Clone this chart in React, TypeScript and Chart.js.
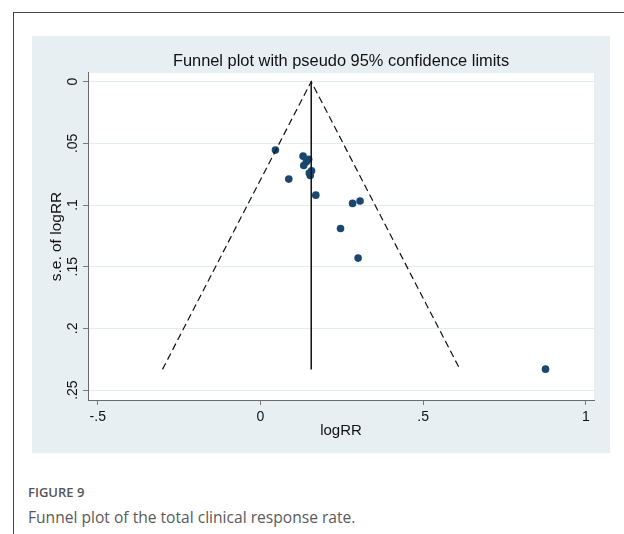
import React, { useEffect, useRef } from "react";
import { Chart, registerables } from "chart.js";

Chart.register(...registerables);

// Study estimates (log risk ratio) and their standard errors
const logRR = [0.046, 0.131, 0.148, 0.141, 0.133, 0.157, 0.153, 0.150, 0.087, 0.170, 0.283, 0.306, 0.246, 0.300, 0.876];
const seLogRR = [0.0555, 0.0604, 0.063, 0.065, 0.068, 0.0723, 0.076, 0.074, 0.079, 0.092, 0.0987, 0.0968, 0.119, 0.143, 0.233];
const pooledLogRR = 0.156;
const maxSE = 0.2332;
const zValue = 1.96;

const xTickValues = [-0.5, 0, 0.5, 1];
const xTickLabels = ["-.5", "0", ".5", "1"];
const yTickValues = [0, 0.05, 0.1, 0.15, 0.2, 0.25];
const yTickLabels = ["0", ".05", ".1", ".15", ".2", ".25"];

const chartTitle = "Funnel plot with pseudo 95% confidence limits";
const xTitle = "logRR";
const yTitle = "s.e. of logRR";
const figureLabel = "FIGURE 9";
const figureCaption = "Funnel plot of the total clinical response rate.";

const FONT = "'Liberation Sans', Arial, Helvetica, sans-serif";

export default function App() {
  const canvasRef = useRef<HTMLCanvasElement | null>(null);

  useEffect(() => {
    const canvas = canvasRef.current;
    if (!canvas) return;

    const studies = logRR.map((x, i) => ({ x, y: seLogRR[i] }));
    const funnel = [
      { x: pooledLogRR - zValue * maxSE, y: maxSE },
      { x: pooledLogRR, y: 0 },
      { x: pooledLogRR + zValue * maxSE, y: maxSE },
    ];
    const pooledLine = [
      { x: pooledLogRR, y: 0 },
      { x: pooledLogRR, y: maxSE },
    ];

    const whiteArea = {
      id: "whiteArea",
      beforeDraw(chart: any) {
        const { ctx, chartArea } = chart;
        ctx.save();
        ctx.fillStyle = "#ffffff";
        ctx.fillRect(chartArea.left, chartArea.top, chartArea.right - chartArea.left, chartArea.bottom - chartArea.top);
        ctx.restore();
      },
    };

    const chart = new Chart(canvas, {
      type: "scatter",
      data: {
        datasets: [
          {
            type: "line",
            data: funnel,
            borderColor: "#111111",
            borderWidth: 1.2,
            borderDash: [7, 4],
            pointRadius: 0,
            fill: false,
            tension: 0,
          } as any,
          {
            type: "line",
            data: pooledLine,
            borderColor: "#111111",
            borderWidth: 1.5,
            pointRadius: 0,
            fill: false,
          } as any,
          {
            type: "scatter",
            data: studies,
            backgroundColor: "#1a476f",
            borderColor: "#1a476f",
            borderWidth: 0,
            pointRadius: 3.8,
          } as any,
        ],
      },
      options: {
        animation: false,
        responsive: false,
        maintainAspectRatio: false,
        layout: { padding: { left: 0, right: 16, top: 0, bottom: 0 } },
        plugins: {
          legend: { display: false },
          tooltip: { enabled: false },
          title: {
            display: true,
            text: chartTitle,
            fullSize: false,
            color: "#111111",
            font: { family: FONT, size: 16.4, weight: "normal" },
            padding: { top: 16, bottom: 1.3 },
          },
        },
        scales: {
          x: {
            type: "linear",
            min: -0.53,
            max: 1.025,
            afterBuildTicks: (s: any) => {
              s.ticks = xTickValues.map((v) => ({ value: v }));
            },
            afterFit: (s: any) => {
              s.height = 53;
            },
            ticks: {
              autoSkip: false,
              maxRotation: 0,
              minRotation: 0,
              padding: 4,
              color: "#111111",
              font: { family: FONT, size: 14 },
              callback: (_v: any, i: number) => xTickLabels[i],
            },
            grid: {
              drawOnChartArea: false,
              drawTicks: true,
              tickLength: 5,
              tickColor: "#7a7a7a",
              tickWidth: 1,
            },
            border: { display: true, color: "#6a6a6a", width: 1 },
            title: {
              display: true,
              text: xTitle,
              color: "#111111",
              font: { family: FONT, size: 15 },
              padding: { top: 0, bottom: 13 },
            },
          },
          y: {
            type: "linear",
            reverse: true,
            min: -0.007,
            max: 0.258,
            afterBuildTicks: (s: any) => {
              s.ticks = yTickValues.map((v) => ({ value: v }));
            },
            afterFit: (s: any) => {
              s.width = 56;
            },
            ticks: {
              autoSkip: false,
              minRotation: 90,
              maxRotation: 90,
              crossAlign: "center",
              padding: 0,
              color: "#111111",
              font: { family: FONT, size: 14 },
              callback: (_v: any, i: number) => yTickLabels[i],
            },
            grid: {
              drawOnChartArea: true,
              color: "#e3ebee",
              lineWidth: 1,
              drawTicks: true,
              tickLength: 5,
              tickColor: "#7a7a7a",
              tickWidth: 1,
            },
            border: { display: true, color: "#6a6a6a", width: 1 },
            title: {
              display: true,
              text: yTitle,
              color: "#111111",
              font: { family: FONT, size: 15.5 },
              padding: { top: 15, bottom: 0 },
            },
          },
        },
      } as any,
      plugins: [whiteArea],
    });

    return () => chart.destroy();
  }, []);

  return (
    <div style={{ position: "absolute", left: 0, top: 0, width: 624, height: 534, background: "#ffffff", overflow: "hidden" }}>
      <div
        style={{
          position: "absolute",
          left: 13,
          top: 12,
          width: 620,
          height: 530,
          borderTop: "1px solid #444",
          borderLeft: "1px solid #444",
        }}
      />
      <div style={{ position: "absolute", left: 32, top: 36, width: 578, height: 417, background: "#e8eff2" }}>
        <canvas ref={canvasRef} width={578} height={417} style={{ display: "block", width: 578, height: 417 }} />
      </div>
      <div
        style={{
          position: "absolute",
          left: 28,
          top: 483,
          fontFamily: "'Open Sans', 'Noto Sans', sans-serif",
          fontSize: 13,
          fontWeight: 600,
          color: "#555555",
          lineHeight: "18px",
          whiteSpace: "nowrap",
        }}
      >
        {figureLabel}
      </div>
      <div
        style={{
          position: "absolute",
          left: 28,
          top: 506,
          fontFamily: "'Open Sans', 'Noto Sans', sans-serif",
          fontSize: 15.6,
          color: "#5a5a5a",
          lineHeight: "22px",
          whiteSpace: "nowrap",
        }}
      >
        {figureCaption}
      </div>
    </div>
  );
}
